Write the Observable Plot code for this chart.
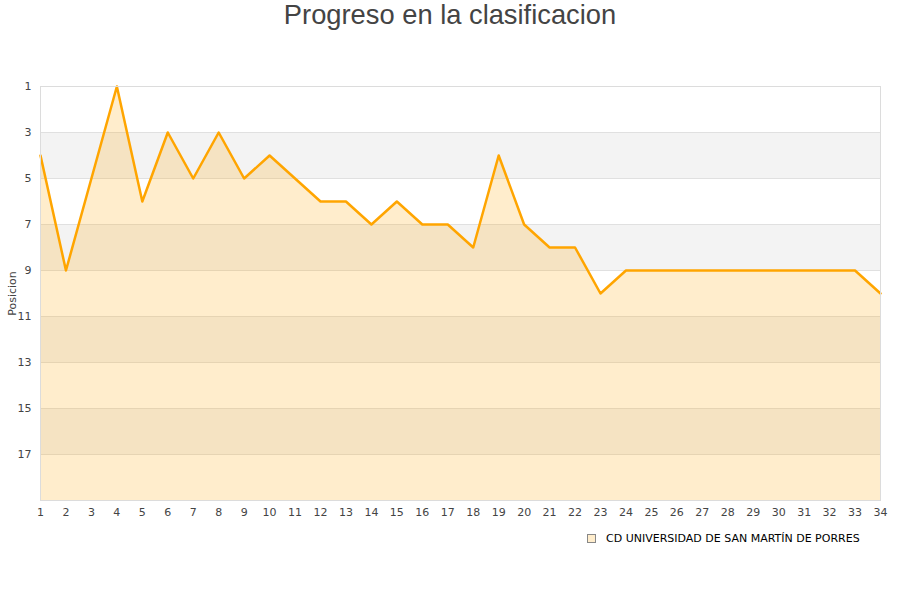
<!DOCTYPE html>
<html>
<head>
<meta charset="utf-8">
<script src="https://cdn.jsdelivr.net/npm/d3@7"></script>
<script src="https://cdn.jsdelivr.net/npm/@observablehq/plot@0.6"></script>
<style>
  body { margin: 0; background: #fff; }
  #wrap { position: relative; width: 900px; height: 600px; overflow: hidden; }
  #title { position: absolute; top: -1px; left: 0; width: 900px; text-align: center;
    font-family: "Liberation Sans", Arial, sans-serif; font-size: 27.3px; color: #444; line-height: 32px; }
  #legend { position: absolute; top: 532px; left: 587px; font-family: "DejaVu Sans", sans-serif;
    font-size: 11px; color: #000; display: flex; align-items: center; white-space: nowrap; }
  #legend .sw { width: 7px; height: 7px; background: #ffedcc; border: 1px solid #888; margin-right: 10px; }
  #chart { position: absolute; top: 0; left: 0; }
</style>
</head>
<body>
<div id="wrap">
  <div id="chart"></div>
  <div id="title">Progreso en la clasificacion</div>
  <div id="legend"><span class="sw"></span><span>CD UNIVERSIDAD DE SAN MARTÍN DE PORRES</span></div>
</div>
<script>
const jornadas = d3.range(1, 35);
const posiciones = [4, 9, 5, 1, 6, 3, 5, 3, 5, 4, 5, 6, 6, 7, 6, 7, 7, 8, 4, 7, 8, 8, 10, 9, 9, 9, 9, 9, 9, 9, 9, 9, 9, 10];
const yTicks = [1, 3, 5, 7, 9, 11, 13, 15, 17];
const bandStarts = [3, 7, 11, 15];
const serie = "CD UNIVERSIDAD DE SAN MARTÍN DE PORRES";

const data = jornadas.map((j, i) => ({ j, p: posiciones[i] }));
const bands = bandStarts.map(s => ({ y1: s, y2: s + 2 }));

const chart = Plot.plot({
  width: 900,
  height: 600,
  marginTop: 86,
  marginBottom: 100,
  marginLeft: 40,
  marginRight: 20,
  style: { fontFamily: "DejaVu Sans, sans-serif", fontSize: "11px", color: "#444", background: "transparent" },
  x: { domain: [1, 34] },
  y: { domain: [1, 19], reverse: true },
  marks: [
    Plot.rectY(bands, { x1: 1, x2: 34, y1: "y1", y2: "y2", fill: "#f3f3f3" }),
    Plot.ruleY(yTicks.slice(1).concat([19]), { stroke: "#e0e0e0", strokeWidth: 1 }),
    Plot.areaY(data, { x: "j", y1: 19, y2: "p", fill: "#FFA500", fillOpacity: 0.2 }),
    Plot.lineY(data, { x: "j", y: "p", stroke: "#FFA500", strokeWidth: 2.5 }),
    Plot.frame({ stroke: "#dcdcdc" }),
    Plot.axisX(jornadas, { tickSize: 0, tickPadding: 8, label: null }),
    Plot.axisY(yTicks, { tickSize: 0, tickPadding: 9, label: "Posicion", labelAnchor: "center", labelArrow: "none", labelOffset: 32 })
  ]
});
document.getElementById("chart").appendChild(chart);
</script>
</body>
</html>
